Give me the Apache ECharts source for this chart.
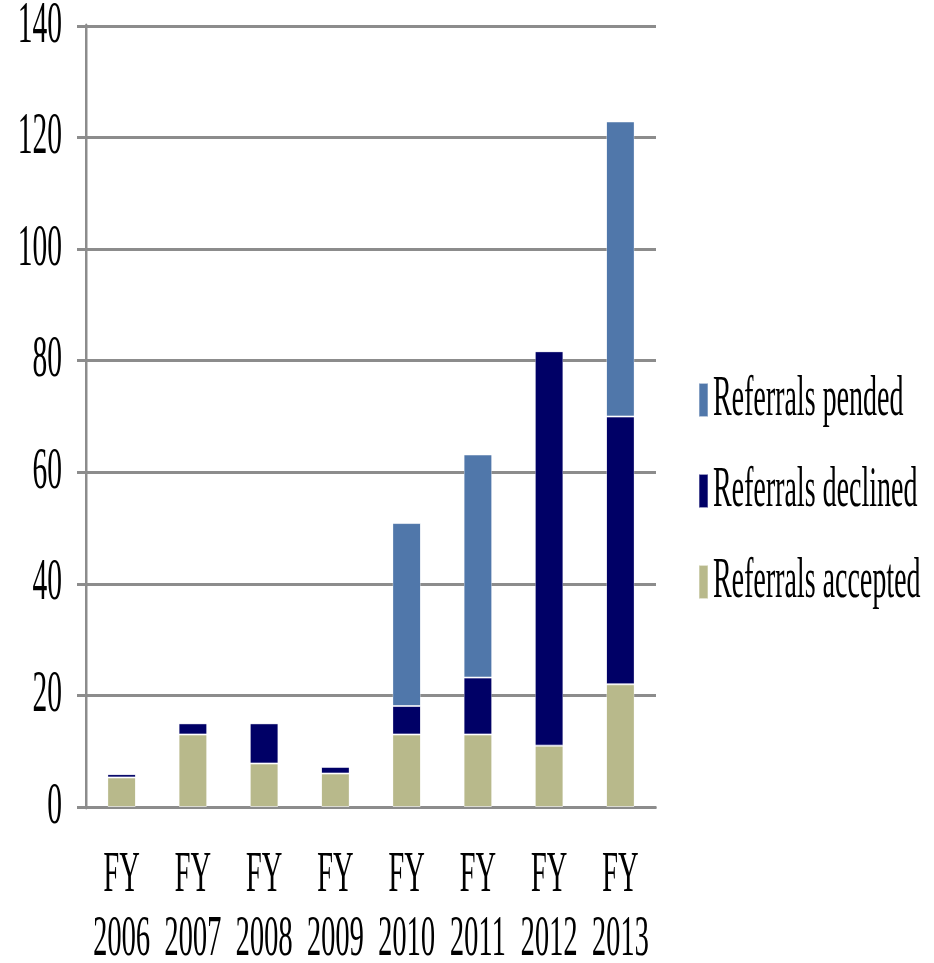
<!DOCTYPE html>
<html>
<head>
<meta charset="utf-8">
<script src="https://cdn.jsdelivr.net/npm/echarts@6/dist/echarts.min.js"></script>
<style>
  html, body { margin: 0; padding: 0; background: #fff; overflow: hidden; }
  /* the reference is squeezed horizontally, so draw wide and scale x by half */
  #chart { width: 1868px; height: 963px; transform: scaleX(0.5); transform-origin: 0 0; }
</style>
</head>
<body>
<div id="chart"></div>
<script>
const years = ["FY\n2006", "FY\n2007", "FY\n2008", "FY\n2009", "FY\n2010", "FY\n2011", "FY\n2012", "FY\n2013"];
const accepted = [5.3, 13, 7.8, 6, 13, 13, 11, 22];
const declined = [0.6, 2, 7.2, 1.2, 5.1, 10.2, 70.7, 48];
const pended = [0, 0, 0, 0, 32.8, 40, 0, 52.9];

const FONT = "Liberation Serif";
const GRID_GRAY = "#8c8c8c";

const chart = echarts.init(document.getElementById("chart"));

function barSeries(name, data, color) {
  return {
    name: name,
    type: "bar",
    stack: "total",
    barWidth: "39%",
    data: data,
    itemStyle: { color: color, borderColor: "rgba(255,255,255,0.6)", borderWidth: 1 },
  };
}

chart.setOption({
  animation: false,
  textStyle: { fontFamily: FONT },
  grid: { left: 172, right: 556, top: 26, bottom: 156, outerBoundsMode: "none" },
  legend: {
    orient: "vertical",
    left: 1392,
    top: 367,
    itemWidth: 18,
    itemHeight: 34,
    itemGap: 35,
    icon: "rect",
    data: ["Referrals pended", "Referrals declined", "Referrals accepted"],
    textStyle: { fontFamily: FONT, fontSize: 56, color: "#000", padding: [0, 0, 0, 5] },
  },
  xAxis: {
    type: "category",
    data: years,
    axisLine: { lineStyle: { color: GRID_GRAY, width: 3 } },
    axisTick: { length: 15, lineStyle: { color: GRID_GRAY, width: 2.5 } },
    axisLabel: {
      margin: 37,
      fontFamily: FONT,
      fontSize: 57,
      lineHeight: 64,
      color: "#000",
      interval: 0,
    },
  },
  yAxis: {
    type: "value",
    min: 0,
    max: 140,
    interval: 20,
    axisLine: { show: true, lineStyle: { color: GRID_GRAY, width: 5 } },
    axisTick: { show: true, length: 18, lineStyle: { color: GRID_GRAY, width: 3 } },
    axisLabel: { margin: 48, fontFamily: FONT, fontSize: 59, lineHeight: 48, color: "#000" },
    splitLine: { lineStyle: { color: GRID_GRAY, width: 3 } },
  },
  series: [
    barSeries("Referrals accepted", accepted, "#b8b98b"),
    barSeries("Referrals declined", declined, "#000066"),
    barSeries("Referrals pended", pended, "#5077aa"),
  ],
});
</script>
</body>
</html>
